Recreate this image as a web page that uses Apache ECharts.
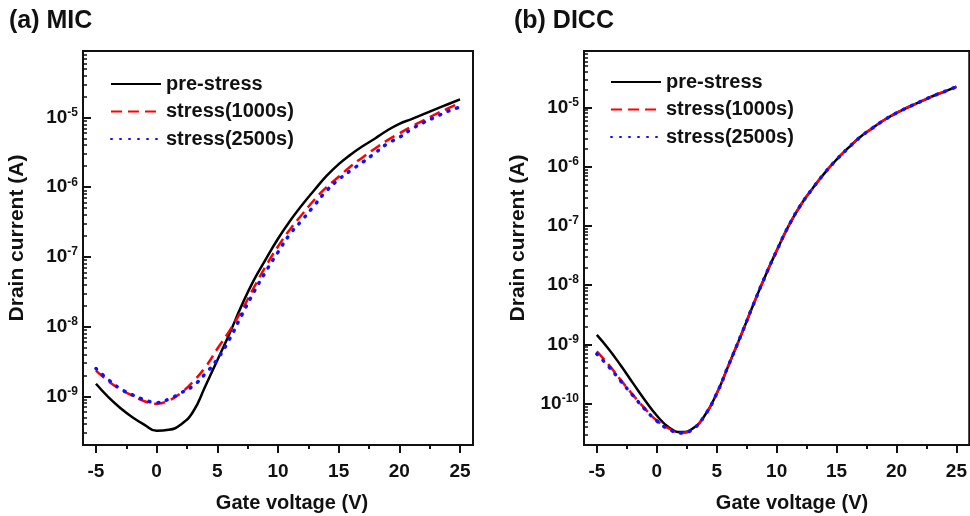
<!DOCTYPE html>
<html>
<head>
<meta charset="utf-8">
<script src="https://cdn.jsdelivr.net/npm/echarts@6/dist/echarts.min.js"></script>
<style>
    html, body { margin: 0; padding: 0; background: #fff; }
    #chart { width: 970px; height: 516px; }
</style>
</head>
<body>
<div id="chart"></div>
<script>
// gate voltage (V)
const gateVoltage = [-5, -4, -3, -2, -1, 0, 1, 2, 3, 4, 5, 6, 7, 8, 9, 10, 11, 12, 13, 14, 15, 16, 17, 18, 19, 20, 21, 22, 23, 24, 25];

// drain current (A), panel (a) MIC
const micPre = [1.51e-9, 9.8e-10, 6.8e-10, 5.0e-10, 3.9e-10, 3.2e-10, 3.3e-10, 3.95e-10, 6.0e-10, 1.38e-9, 3.3e-9, 7.9e-9, 2.0e-8, 4.6e-8, 9.3e-8, 1.82e-7, 3.3e-7, 5.6e-7, 9.1e-7, 1.45e-6, 2.14e-6, 2.95e-6, 3.9e-6, 5.0e-6, 6.5e-6, 8.1e-6, 9.5e-6, 1.12e-5, 1.32e-5, 1.55e-5, 1.82e-5];
const micStress1000 = [2.34e-9, 1.66e-9, 1.26e-9, 1.02e-9, 8.5e-10, 7.8e-10, 8.7e-10, 1.12e-9, 1.62e-9, 2.6e-9, 4.8e-9, 8.7e-9, 1.7e-8, 3.6e-8, 7.4e-8, 1.41e-7, 2.5e-7, 4.1e-7, 6.6e-7, 1.0e-6, 1.41e-6, 2.0e-6, 2.7e-6, 3.6e-6, 4.7e-6, 5.9e-6, 7.4e-6, 9.1e-6, 1.12e-5, 1.35e-5, 1.62e-5];
const micStress2500 = [2.5e-9, 1.74e-9, 1.29e-9, 1.05e-9, 8.9e-10, 8.1e-10, 9.1e-10, 1.12e-9, 1.41e-9, 2.1e-9, 3.4e-9, 6.6e-9, 1.45e-8, 3.1e-8, 6.2e-8, 1.17e-7, 2.14e-7, 3.4e-7, 5.5e-7, 8.9e-7, 1.29e-6, 1.74e-6, 2.3e-6, 3.1e-6, 4.2e-6, 5.2e-6, 6.8e-6, 8.5e-6, 1.02e-5, 1.23e-5, 1.41e-5];

// drain current (A), panel (b) DICC
const diccPre = [1.45e-9, 8.3e-10, 4.4e-10, 2.24e-10, 1.15e-10, 6.3e-11, 4.0e-11, 3.3e-11, 3.8e-11, 6.3e-11, 1.48e-10, 4.5e-10, 1.38e-9, 4.4e-9, 1.35e-8, 3.8e-8, 1.0e-7, 2.24e-7, 4.3e-7, 7.8e-7, 1.32e-6, 2.1e-6, 3.2e-6, 4.5e-6, 6.2e-6, 8.1e-6, 1.02e-5, 1.26e-5, 1.55e-5, 1.86e-5, 2.24e-5];
const diccStress1000 = [7.6e-10, 4.5e-10, 2.5e-10, 1.41e-10, 8.3e-11, 5.2e-11, 3.8e-11, 3.2e-11, 3.7e-11, 6.3e-11, 1.48e-10, 4.5e-10, 1.38e-9, 4.4e-9, 1.35e-8, 3.8e-8, 1.0e-7, 2.24e-7, 4.3e-7, 7.8e-7, 1.32e-6, 2.1e-6, 3.2e-6, 4.5e-6, 6.2e-6, 8.1e-6, 1.02e-5, 1.26e-5, 1.55e-5, 1.86e-5, 2.24e-5];
const diccStress2500 = [6.9e-10, 4.2e-10, 2.4e-10, 1.38e-10, 8.1e-11, 5.1e-11, 3.7e-11, 3.2e-11, 3.7e-11, 6.3e-11, 1.48e-10, 4.5e-10, 1.38e-9, 4.4e-9, 1.35e-8, 3.8e-8, 1.0e-7, 2.24e-7, 4.3e-7, 7.8e-7, 1.32e-6, 2.1e-6, 3.2e-6, 4.5e-6, 6.2e-6, 8.1e-6, 1.02e-5, 1.26e-5, 1.55e-5, 1.86e-5, 2.24e-5];

const legendNames = ['pre-stress', 'stress(1000s)', 'stress(2500s)'];
const xTicks = [-5, 0, 5, 10, 15, 20, 25];
const xMinorTicks = [-2.5, 2.5, 7.5, 12.5, 17.5, 22.5];
const yTicksA = [1e-9, 1e-8, 1e-7, 1e-6, 1e-5];
const yTicksB = [1e-10, 1e-9, 1e-8, 1e-7, 1e-6, 1e-5];

const FONT = 'Liberation Sans, Arial, sans-serif';
const INK = '#111';

// minor log ticks 2..9 x 10^n
function minorLog(lo, hi) {
    let out = [];
    for (let n = lo; n <= hi; n++) {
        for (let k = 2; k <= 9; k++) out.push(k * Math.pow(10, n));
    }
    return out;
}

function pairs(ys) {
    return gateVoltage.map((v, i) => [v, ys[i]]);
}

function xAxes(grid) {
    return [{
        type: 'value', gridIndex: grid, position: 'bottom', min: -6.07, max: 26.07,
        axisLine: { show: true, onZero: false, lineStyle: { color: INK, width: 2 } },
        axisTick: { show: true, customValues: xTicks, length: 8, lineStyle: { color: INK, width: 2 } },
        axisLabel: { customValues: xTicks, margin: 17, color: INK, fontSize: 19, fontWeight: 'bold', fontFamily: FONT },
        splitLine: { show: false }
    }, {
        type: 'value', gridIndex: grid, position: 'bottom', min: -6.07, max: 26.07,
        axisLine: { show: false, onZero: false },
        axisTick: { show: true, customValues: xMinorTicks, length: 4, lineStyle: { color: INK, width: 2 } },
        axisLabel: { show: false },
        splitLine: { show: false }
    }];
}

function yAxes(grid, min, max, ticks, lo, hi) {
    return [{
        type: 'log', logBase: 10, gridIndex: grid, position: 'left', min: min, max: max,
        axisLine: { show: true, onZero: false, lineStyle: { color: INK, width: 2 } },
        axisTick: { show: true, inside: true, customValues: ticks, length: 8, lineStyle: { color: INK, width: 2 } },
        axisLabel: {
            customValues: ticks, margin: 5, color: INK, fontFamily: FONT,
            formatter: function (v) {
                return '{b|10}{s|' + Math.round(Math.log10(v)) + '}';
            },
            rich: {
                b: { fontSize: 19, fontWeight: 'bold', fontFamily: FONT, color: INK, lineHeight: 22 },
                s: { fontSize: 12, fontWeight: 'bold', fontFamily: FONT, color: INK, lineHeight: 12, verticalAlign: 'top' }
            }
        },
        splitLine: { show: false }
    }, {
        type: 'log', logBase: 10, gridIndex: grid, position: 'left', min: min, max: max,
        axisLine: { show: false, onZero: false },
        axisTick: { show: true, inside: true, customValues: minorLog(lo, hi), length: 4, lineStyle: { color: INK, width: 1.5 } },
        axisLabel: { show: false },
        splitLine: { show: false }
    }];
}

function curves(xi, yi, pre, s1, s2) {
    return [
        { name: legendNames[0], type: 'line', xAxisIndex: xi, yAxisIndex: yi, data: pairs(pre), smooth: true, symbol: 'none',
          lineStyle: { color: '#000', width: 2.5 }, itemStyle: { color: '#000' } },
        { name: legendNames[1], type: 'line', xAxisIndex: xi, yAxisIndex: yi, data: pairs(s1), smooth: true, symbol: 'none',
          lineStyle: { color: '#ff0000', width: 2.5, type: [11, 6] }, itemStyle: { color: '#ff0000' } },
        { name: legendNames[2], type: 'line', xAxisIndex: xi, yAxisIndex: yi, data: pairs(s2), smooth: true, symbol: 'none',
          lineStyle: { color: '#1010ff', width: 3.5, type: [1, 8], cap: 'round' }, itemStyle: { color: '#1010ff' } }
    ];
}

function legendAt(left, top) {
    return {
        data: legendNames, orient: 'vertical', left: left, top: top, padding: 0,
        itemWidth: 50, itemHeight: 14, itemGap: 7.5,
        itemStyle: { opacity: 0 },
        textStyle: { fontSize: 20, fontWeight: 'bold', fontFamily: FONT, color: INK, lineHeight: 20 }
    };
}

function label(text, x, y, size, rot) {
    return {
        type: 'text', x: x, y: y, rotation: rot || 0,
        style: { text: text, font: 'bold ' + size + 'px ' + FONT, fill: INK, align: 'center', verticalAlign: 'middle' }
    };
}

let myChart = echarts.init(document.getElementById('chart'));
let option = {
    animation: false,
    backgroundColor: '#fff',
    grid: [
        { left: 83, top: 51, width: 390, height: 394, show: true, borderColor: INK, borderWidth: 2 },
        { left: 584, top: 51, width: 389, height: 394, show: true, borderColor: INK, borderWidth: 2 }
    ],
    xAxis: xAxes(0).concat(xAxes(1)),
    yAxis: yAxes(0, 2e-10, 9e-5, yTicksA, -10, -5).concat(yAxes(1, 2e-11, 9e-5, yTicksB, -11, -5)),
    legend: [legendAt(110, 74), legendAt(610, 72)],
    graphic: [
        { type: 'text', left: 9, top: 9, style: { text: '(a) MIC', font: 'bold 25px ' + FONT, fill: INK } },
        { type: 'text', left: 514, top: 9, style: { text: '(b) DICC', font: 'bold 25px ' + FONT, fill: INK } },
        label('Drain current (A)', 17, 238, 21, Math.PI / 2),
        label('Drain current (A)', 518, 238, 21, Math.PI / 2),
        label('Gate voltage (V)', 292, 503, 20),
        label('Gate voltage (V)', 792, 503, 20)
    ],
    series: curves(0, 0, micPre, micStress1000, micStress2500)
        .concat(curves(2, 2, diccPre, diccStress1000, diccStress2500))
};
myChart.setOption(option);
</script>
</body>
</html>
